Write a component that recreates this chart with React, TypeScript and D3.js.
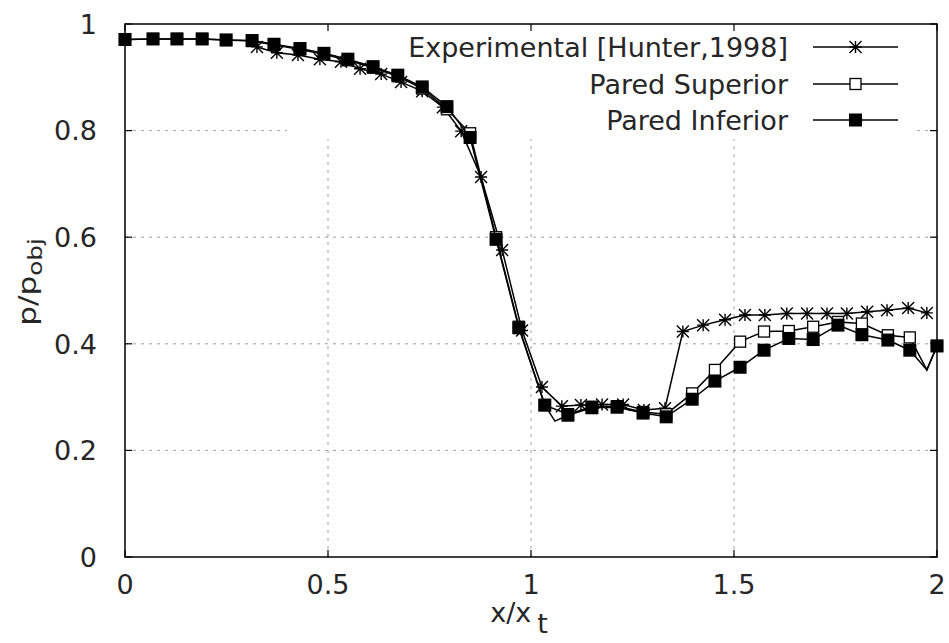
import React from "react";
import * as d3 from "d3";

const xTicks = [0, 0.5, 1, 1.5, 2];
const xTickLabels = ["0", "0.5", "1", "1.5", "2"];
const yTicks = [0, 0.2, 0.4, 0.6, 0.8, 1];
const yTickLabels = ["0", "0.2", "0.4", "0.6", "0.8", "1"];

const expX = [0.325, 0.374, 0.426, 0.48, 0.532, 0.579, 0.631, 0.68, 0.732, 0.783, 0.828, 0.877, 0.929, 0.978, 1.027, 1.076, 1.123, 1.175, 1.227, 1.278, 1.33, 1.374, 1.424, 1.478, 1.527, 1.576, 1.63, 1.68, 1.729, 1.778, 1.828, 1.877, 1.929, 1.975];
const expY = [0.957, 0.946, 0.942, 0.934, 0.929, 0.916, 0.906, 0.891, 0.874, 0.844, 0.799, 0.713, 0.576, 0.425, 0.319, 0.283, 0.285, 0.286, 0.286, 0.276, 0.279, 0.423, 0.435, 0.445, 0.454, 0.454, 0.457, 0.457, 0.457, 0.457, 0.46, 0.463, 0.467, 0.458];

const supX = [0, 0.069, 0.128, 0.19, 0.249, 0.313, 0.367, 0.431, 0.49, 0.549, 0.611, 0.672, 0.732, 0.793, 0.85, 0.914, 0.97, 1.034, 1.091, 1.15, 1.212, 1.276, 1.333, 1.397, 1.453, 1.515, 1.574, 1.635, 1.695, 1.756, 1.815, 1.879, 1.933, 1.975, 2.0];
const supY = [0.971, 0.972, 0.972, 0.972, 0.97, 0.968, 0.961, 0.952, 0.943, 0.932, 0.918, 0.902, 0.879, 0.84, 0.795, 0.6, 0.432, 0.285, 0.268, 0.282, 0.283, 0.272, 0.268, 0.307, 0.351, 0.404, 0.423, 0.424, 0.432, 0.441, 0.438, 0.416, 0.412, 0.351, 0.396];
const supUnmarked = [33];

const infX = [0, 0.069, 0.128, 0.19, 0.249, 0.313, 0.367, 0.431, 0.49, 0.549, 0.611, 0.672, 0.732, 0.793, 0.85, 0.914, 0.97, 1.034, 1.059, 1.091, 1.15, 1.212, 1.276, 1.333, 1.397, 1.453, 1.515, 1.574, 1.635, 1.695, 1.756, 1.815, 1.879, 1.933, 1.975, 2.0];
const infY = [0.971, 0.972, 0.972, 0.972, 0.97, 0.969, 0.962, 0.954, 0.945, 0.934, 0.92, 0.904, 0.882, 0.845, 0.787, 0.596, 0.43, 0.285, 0.255, 0.266, 0.28, 0.281, 0.27, 0.263, 0.296, 0.33, 0.356, 0.388, 0.41, 0.408, 0.435, 0.417, 0.407, 0.388, 0.351, 0.396];
const infUnmarked = [18, 34];

const legendLabels = ["Experimental [Hunter,1998]", "Pared Superior", "Pared Inferior"];

const W = 949;
const H = 643;
const FONT = "'DejaVu Sans', sans-serif";
const FS = 27;
const TXT = "#262626";

const x = d3.scaleLinear().domain([0, 2]).range([125, 937]);
const y = d3.scaleLinear().domain([0, 1]).range([557, 24]);

const starPath = (s: number) =>
  `M${-s},0H${s}M0,${-s}V${s}M${-s},${-s}L${s},${s}M${-s},${s}L${s},${-s}`;

function Marker({ kind, cx, cy }: { kind: string; cx: number; cy: number }) {
  if (kind === "star")
    return <path d={starPath(6)} transform={`translate(${cx},${cy})`} stroke="#000" strokeWidth={1.4} fill="none" />;
  if (kind === "open")
    return <rect x={cx - 5.5} y={cy - 5.5} width={11} height={11} fill="#fff" stroke="#000" strokeWidth={1.3} />;
  return <rect x={cx - 6.5} y={cy - 6.5} width={13} height={13} fill="#000" />;
}

export default function App() {
  const line = d3.line<[number, number]>().x((d) => x(d[0])).y((d) => y(d[1]));
  const series = [
    { xs: expX, ys: expY, skip: [] as number[], kind: "star" },
    { xs: supX, ys: supY, skip: supUnmarked, kind: "open" },
    { xs: infX, ys: infY, skip: infUnmarked, kind: "filled" },
  ];
  const [x0, x1] = x.range();
  const [yb, yt] = y.range();
  const keyRows = [47, 84, 120];

  return (
    <svg width={W} height={H} style={{ position: "absolute", left: 0, top: 0, background: "#fff" }} fontFamily={FONT}>
      <rect x={0} y={0} width={W} height={H} fill="#fff" />
      {/* grid */}
      <g stroke="#a0a0a0" strokeWidth={1} strokeDasharray="3,5">
        {xTicks.slice(1, -1).map((t) => (
          <line key={"gx" + t} x1={x(t)} x2={x(t)} y1={yb} y2={yt} />
        ))}
        {yTicks.slice(1, -1).map((t) => (
          <line key={"gy" + t} x1={x0} x2={x1} y1={y(t)} y2={y(t)} />
        ))}
      </g>
      {/* key background */}
      <rect x={287} y={yt} width={628} height={115} fill="#fff" />
      {/* data */}
      {series.map((s, i) => (
        <g key={"s" + i}>
          <path
            d={line(s.xs.map((v, j) => [v, s.ys[j]] as [number, number])) || ""}
            fill="none"
            stroke="#000"
            strokeWidth={1.5}
          />
          {s.xs.map((v, j) =>
            s.skip.includes(j) ? null : <Marker key={j} kind={s.kind} cx={x(v)} cy={y(s.ys[j])} />
          )}
        </g>
      ))}
      {/* border */}
      <rect x={x0} y={yt} width={x1 - x0} height={yb - yt} fill="none" stroke="#000" strokeWidth={1.5} />
      {/* ticks */}
      <g stroke="#000" strokeWidth={1.2}>
        {xTicks.map((t) => (
          <g key={"tx" + t}>
            <line x1={x(t)} x2={x(t)} y1={yb} y2={yb - 7} />
            <line x1={x(t)} x2={x(t)} y1={yt} y2={yt + 7} />
          </g>
        ))}
        {yTicks.map((t) => (
          <g key={"ty" + t}>
            <line x1={x0} x2={x0 + 7} y1={y(t)} y2={y(t)} />
            <line x1={x1} x2={x1 - 7} y1={y(t)} y2={y(t)} />
          </g>
        ))}
      </g>
      {/* tick labels */}
      <g fontSize={FS} fill={TXT}>
        {xTicks.map((t, i) => (
          <text key={"lx" + t} x={x(t)} y={yb + 37} textAnchor="middle">
            {xTickLabels[i]}
          </text>
        ))}
        {yTicks.map((t, i) => (
          <text key={"ly" + t} x={97} y={y(t)} dy="0.36em" textAnchor="end">
            {yTickLabels[i]}
          </text>
        ))}
      </g>
      {/* axis labels */}
      <text x={519} y={622} textAnchor="middle" fontSize={FS} fill={TXT}>
        x/x
        <tspan dx={6} dy={11}>t</tspan>
      </text>
      <text transform="translate(36,282) rotate(-90) scale(1.3,1)" textAnchor="middle" fontSize={24} fill={TXT}>
        p/p
        <tspan fontSize={19} dy={6}>obj</tspan>
      </text>
      {/* legend */}
      {legendLabels.map((lab, i) => (
        <g key={"k" + i}>
          <text x={788} y={keyRows[i]} dy="0.36em" textAnchor="end" fontSize={FS} fill={TXT}>
            {lab}
          </text>
          <line x1={813} x2={898} y1={keyRows[i]} y2={keyRows[i]} stroke="#000" strokeWidth={1.5} />
          <Marker kind={series[i].kind} cx={855.5} cy={keyRows[i]} />
        </g>
      ))}
    </svg>
  );
}
